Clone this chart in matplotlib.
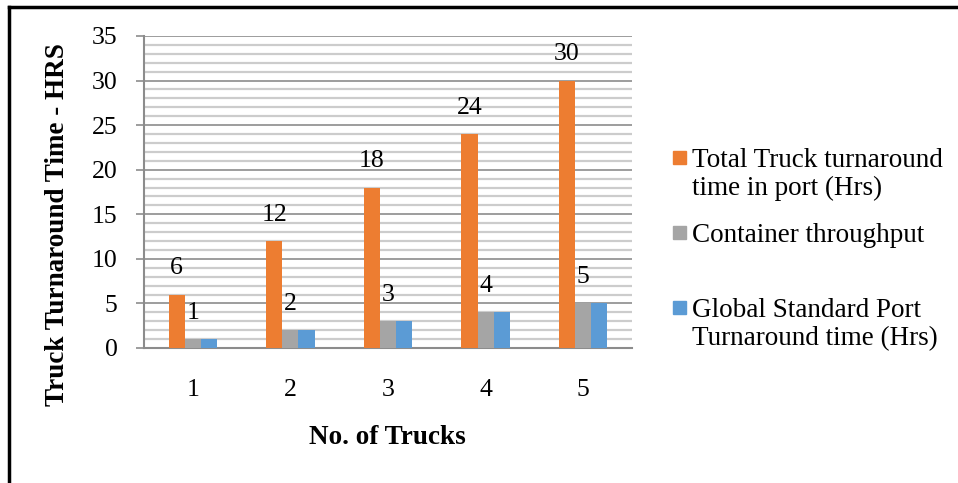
import numpy as np
import matplotlib.pyplot as plt
from matplotlib.patches import Rectangle
from matplotlib.lines import Line2D
from matplotlib.ticker import MultipleLocator

plt.rcParams['font.family'] = ['Liberation Serif', 'DejaVu Serif']

trucks = ['1', '2', '3', '4', '5']
total_turnaround = [6, 12, 18, 24, 30]
container_throughput = [1, 2, 3, 4, 5]
global_standard = [1, 2, 3, 4, 5]

series_names = ['Total Truck turnaround\ntime in port (Hrs)',
                'Container throughput',
                'Global Standard Port\nTurnaround time (Hrs)']
colors = ['#ED7D31', '#A5A5A5', '#5B9BD5']

W, H = 958, 483
fig = plt.figure(figsize=(W / 100, H / 100), dpi=100)
ax = fig.add_axes([144 / W, 1 - 348 / H, (632 - 144) / W, (348 - 36) / H])

x = np.arange(len(trucks))
bw = 0.165
series = [total_turnaround, container_throughput, global_standard]
bars = []
for i, vals in enumerate(series):
    b = ax.bar(x + (i - 1) * bw, vals, bw, color=colors[i], zorder=3)
    bars.append(b)

# value labels on the first two series only
for b, vals in zip(bars[:2], series[:2]):
    for rect, v in zip(b, vals):
        ax.annotate(str(v), (rect.get_x() + rect.get_width() / 2, v),
                    xytext=(0, 19), textcoords='offset points',
                    ha='center', va='center', fontsize=18.5, zorder=4)

ax.set_xlim(-0.5, len(trucks) - 0.5)
ax.set_ylim(0, 35)
ax.set_xticks(x)
ax.set_xticklabels(trucks)
ax.yaxis.set_major_locator(MultipleLocator(5))
ax.yaxis.set_minor_locator(MultipleLocator(1))
ax.grid(axis='y', which='major', color='#8c8c8c', linewidth=1.2, zorder=0)
ax.grid(axis='y', which='minor', color='#cccccc', linewidth=1.6, zorder=0)

for s in ['top', 'right']:
    ax.spines[s].set_visible(False)
for s in ['left', 'bottom']:
    ax.spines[s].set_color('#8c8c8c')
    ax.spines[s].set_linewidth(1.5)

ax.tick_params(axis='y', which='major', length=6, width=1.2, color='#8c8c8c',
               pad=13, labelsize=18.5)
ax.tick_params(axis='y', which='minor', length=0)
ax.tick_params(axis='x', length=0, pad=22, labelsize=18.5)

fig.text(58 / W, 1 - 225 / H, 'Truck Turnaround Time - HRS', rotation=90,
         ha='center', va='center', fontsize=19.5, fontweight='bold')
fig.text(387 / W, 1 - 438 / H, 'No. of Trucks', ha='center', va='center',
         fontsize=19.5, fontweight='bold')

# legend drawn by hand: swatch plus text block
legend_rows = [158, 233, 308]
for name, c, yc in zip(series_names, colors, legend_rows):
    fig.patches.append(Rectangle((673 / W, 1 - (yc + 6) / H), 13 / W, 13 / H,
                                 transform=fig.transFigure, color=c))
    fig.text(692 / W, 1 - (yc - 10) / H, name, ha='left', va='top',
             fontsize=19.5, linespacing=1.17)

# outer frame: top and left edges
fig.lines.append(Line2D([9 / W, 1], [1 - 7 / H, 1 - 7 / H],
                        transform=fig.transFigure, color='black', linewidth=2.5))
fig.lines.append(Line2D([9 / W, 9 / W], [0, 1 - 7 / H],
                        transform=fig.transFigure, color='black', linewidth=2.5))

fig.savefig('out.png', dpi=100)
